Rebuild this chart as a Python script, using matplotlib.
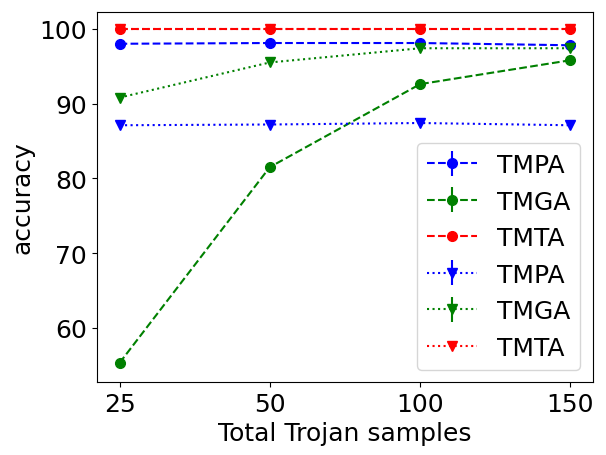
import matplotlib
matplotlib.use("Agg")
import matplotlib.pyplot as plt
import numpy as np

x_labels = ["25", "50", "100", "150"]
tmpa_circle = [98.0, 98.1, 98.1, 97.8]
tmga_circle = [55.3, 81.5, 92.6, 95.8]
tmta_circle = [100.0, 100.0, 100.0, 100.0]
tmpa_tri = [87.1, 87.2, 87.4, 87.1]
tmga_tri = [90.8, 95.5, 97.4, 97.4]
tmta_tri = [100.0, 100.0, 100.0, 100.0]
tmpa_circle_err = [0.2, 0.2, 0.2, 0.2]
tmga_circle_err = [0.3, 0.3, 0.3, 0.3]
tmpa_tri_err = [0.2, 0.2, 0.2, 0.2]
tmga_tri_err = [0.3, 0.3, 0.3, 0.3]

plt.rcParams['font.size'] = 18
fig = plt.figure(figsize=(6.06, 4.56), dpi=100)
ax = fig.add_axes([0.160, 0.160, 0.8185, 0.8115])
x = np.arange(len(x_labels))

ms = 7
ax.errorbar(x, tmpa_circle, yerr=tmpa_circle_err, fmt='o--', color='blue', ms=ms, label='TMPA')
ax.errorbar(x, tmga_circle, yerr=tmga_circle_err, fmt='o--', color='green', ms=ms, label='TMGA')
ax.errorbar(x, tmta_circle, fmt='o--', color='red', ms=ms, label='TMTA')
ax.errorbar(x, tmpa_tri, yerr=tmpa_tri_err, fmt='v:', color='blue', ms=ms, label='TMPA')
ax.errorbar(x, tmga_tri, yerr=tmga_tri_err, fmt='v:', color='green', ms=ms, label='TMGA')
ax.errorbar(x, tmta_tri, fmt='v:', color='red', ms=ms, label='TMTA')

ax.set_xticks(x)
ax.set_xticklabels(x_labels)
ax.set_yticks([60, 70, 80, 90, 100])
ax.set_xlabel('Total Trojan samples')
ax.set_ylabel('accuracy')
ax.legend(loc='lower right')
fig.savefig('out.png', dpi=100)
